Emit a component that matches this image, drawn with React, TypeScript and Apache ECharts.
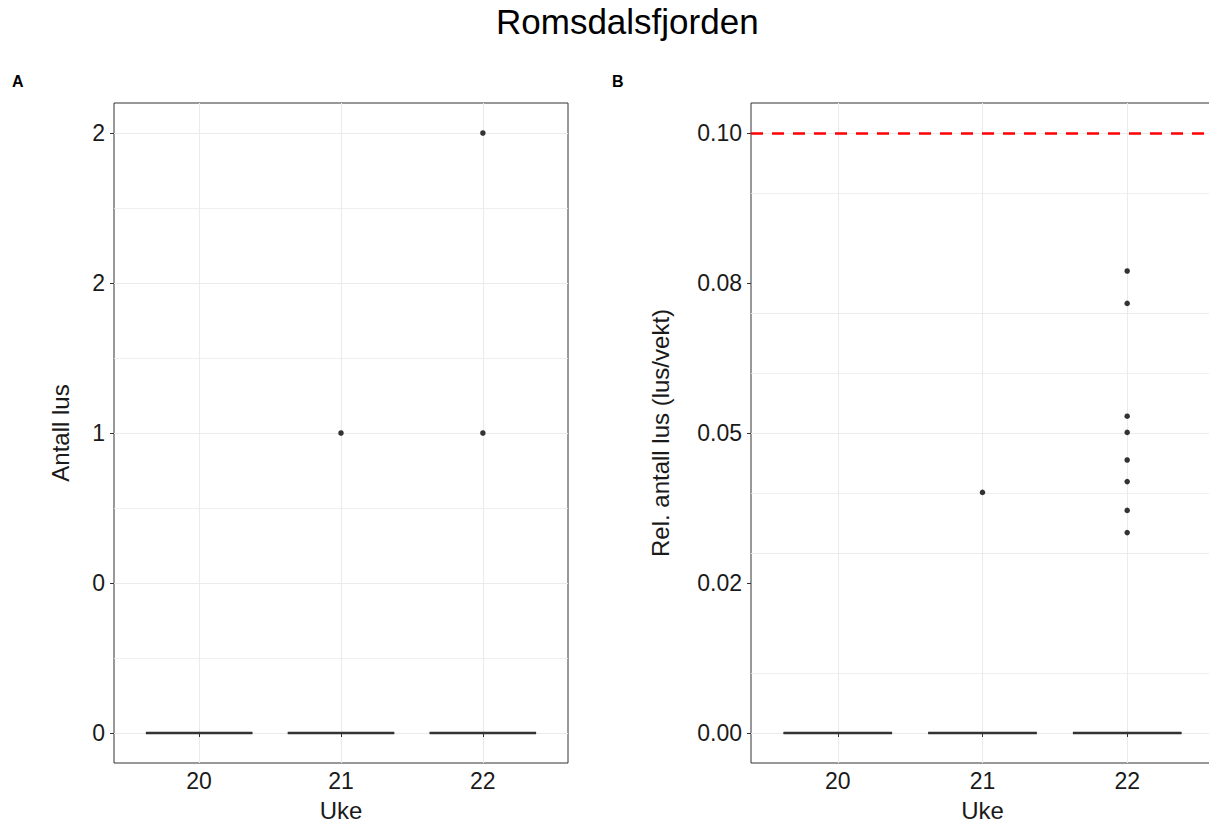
import React, { useEffect, useRef } from "react";
import * as echarts from "echarts";

// ---- data ----
const weeks = [20, 21, 22];
const title = "Romsdalsfjorden";

// box statistics per week: [min, q1, median, q3, max]
const boxA = [
  [0, 0, 0, 0, 0],
  [0, 0, 0, 0, 0],
  [0, 0, 0, 0, 0],
];
const boxB = [
  [0, 0, 0, 0, 0],
  [0, 0, 0, 0, 0],
  [0, 0, 0, 0, 0],
];
// outliers: [week, value]
const outliersA = [
  [21, 1],
  [22, 1],
  [22, 2],
];
const outliersB = [
  [21, 0.0401],
  [22, 0.077],
  [22, 0.0716],
  [22, 0.0528],
  [22, 0.0501],
  [22, 0.0455],
  [22, 0.0419],
  [22, 0.0371],
  [22, 0.0334],
];
const threshold = 0.1;

const ticksA = [0, 0.5, 1, 1.5, 2];
const labelsA = ["0", "0", "1", "2", "2"];
const minorA = [0.25, 0.75, 1.25, 1.75];
const ticksB = [0, 0.025, 0.05, 0.075, 0.1];
const labelsB = ["0.00", "0.02", "0.05", "0.08", "0.10"];
const minorB = [0.0125, 0.0375, 0.0625, 0.0875];

const FONT = '"Liberation Sans", Arial, Helvetica, sans-serif';
const TXT = "#1a1a1a";
const GRID = "#ebebeb";
const DARK = "#333333";

const weekPos = (w: number) => weeks.indexOf(w) + 1;

function labelFor(ticks: number[], labels: string[]) {
  return (v: number) => {
    const i = ticks.findIndex((t) => Math.abs(t - v) < 1e-9);
    return i >= 0 ? labels[i] : "";
  };
}

function renderBox(params: any, api: any) {
  const x = api.value(0);
  const lo = api.coord([x - 0.375, api.value(2)]);
  const hi = api.coord([x + 0.375, api.value(4)]);
  const med = api.coord([x, api.value(3)]);
  const wMin = api.coord([x, api.value(1)]);
  const wMax = api.coord([x, api.value(5)]);
  const lw = 2.6;
  return {
    type: "group",
    children: [
      { type: "line", shape: { x1: wMin[0], y1: wMin[1], x2: wMin[0], y2: lo[1] }, style: { stroke: DARK, lineWidth: 1, fill: "none" } },
      { type: "line", shape: { x1: wMax[0], y1: hi[1], x2: wMax[0], y2: wMax[1] }, style: { stroke: DARK, lineWidth: 1, fill: "none" } },
      {
        type: "rect",
        shape: { x: lo[0], y: hi[1], width: hi[0] - lo[0], height: lo[1] - hi[1] },
        style: { fill: "#ffffff", stroke: DARK, lineWidth: 1 },
      },
      {
        type: "rect",
        shape: { x: lo[0], y: med[1] - lw / 2, width: hi[0] - lo[0], height: lw },
        style: { fill: DARK, stroke: "none", lineWidth: 0 },
      },
    ],
  };
}

function gridLinesSeries(idx: number, majors: number[], minors: number[]) {
  const data: any[] = [];
  majors.forEach((v) => data.push({ yAxis: v, lineStyle: { width: 1.1 } }));
  minors.forEach((v) => data.push({ yAxis: v, lineStyle: { width: 0.8 } }));
  weeks.forEach((w) => data.push({ xAxis: weekPos(w), lineStyle: { width: 1.1 } }));
  return {
    type: "scatter",
    xAxisIndex: idx,
    yAxisIndex: idx,
    data: [],
    silent: true,
    z: 0,
    markLine: {
      z: 0,
      silent: true,
      symbol: ["none", "none"],
      label: { show: false },
      lineStyle: { color: GRID, type: "solid" },
      data,
    },
  };
}

export default function App() {
  const ref = useRef<HTMLDivElement>(null);
  useEffect(() => {
    if (!ref.current) return;
    const chart = echarts.init(ref.current, undefined, { renderer: "svg" });

    const xAxis = (gi: number) => ({
      type: "value",
      gridIndex: gi,
      min: 0.4,
      max: 3.6,
      name: "Uke",
      nameLocation: "middle",
      nameGap: 35,
      nameTextStyle: { fontFamily: FONT, fontSize: 24, color: TXT },
      axisLine: { show: false },
      splitLine: { show: false },
      axisTick: { show: true, length: 4, customValues: [1, 2, 3], lineStyle: { color: DARK } },
      axisLabel: {
        customValues: [1, 2, 3],
        formatter: (v: number) => String(weeks[Math.round(v) - 1] ?? ""),
        fontFamily: FONT,
        fontSize: 23,
        color: TXT,
        margin: 6,
      },
    });

    const yAxis = (gi: number, min: number, max: number, ticks: number[], labels: string[], name: string, gap: number) => ({
      type: "value",
      gridIndex: gi,
      min,
      max,
      name,
      nameLocation: "middle",
      nameGap: gap,
      nameTextStyle: { fontFamily: FONT, fontSize: 24, color: TXT },
      axisLine: { show: false },
      splitLine: { show: false },
      axisTick: { show: true, length: 4, customValues: ticks, lineStyle: { color: DARK } },
      axisLabel: {
        customValues: ticks,
        formatter: labelFor(ticks, labels),
        fontFamily: FONT,
        fontSize: 23,
        color: TXT,
        margin: 9,
      },
    });

    const boxData = (stats: number[][]) => stats.map((s, i) => [weekPos(weeks[i]), ...s]);

    const pointStyle = { color: DARK, opacity: 1, borderWidth: 0 };

    chart.setOption({
      animation: false,
      backgroundColor: "#ffffff",
      graphic: [
        {
          type: "text",
          left: 496,
          top: 4,
          style: { text: title, fontFamily: FONT, fontSize: 35, fill: "#000" },
        },
        { type: "text", left: 12, top: 73, style: { text: "A", fontFamily: FONT, fontSize: 16, fontWeight: "bold", fill: "#000" } },
        { type: "text", left: 612, top: 73, style: { text: "B", fontFamily: FONT, fontSize: 16, fontWeight: "bold", fill: "#000" } },
      ],
      grid: [
        { left: 114, top: 103, width: 454, height: 660, outerBoundsMode: "none", containLabel: false, show: true, borderColor: DARK, borderWidth: 1, backgroundColor: "#fff" },
        { left: 751, top: 103, width: 463, height: 660, outerBoundsMode: "none", containLabel: false, show: true, borderColor: DARK, borderWidth: 1, backgroundColor: "#fff" },
      ],
      xAxis: [xAxis(0), xAxis(1)],
      yAxis: [
        yAxis(0, -0.1, 2.1, ticksA, labelsA, "Antall lus", 42),
        yAxis(1, -0.005, 0.105, ticksB, labelsB, "Rel. antall lus (lus/vekt)", 79),
      ],
      series: [
        gridLinesSeries(0, ticksA, minorA),
        gridLinesSeries(1, ticksB, minorB),
        {
          type: "custom",
          xAxisIndex: 0,
          yAxisIndex: 0,
          renderItem: renderBox,
          encode: { x: 0, y: [1, 2, 3, 4, 5] },
          data: boxData(boxA),
          z: 2,
        },
        {
          type: "custom",
          xAxisIndex: 1,
          yAxisIndex: 1,
          renderItem: renderBox,
          encode: { x: 0, y: [1, 2, 3, 4, 5] },
          data: boxData(boxB),
          z: 2,
        },
        {
          type: "scatter",
          xAxisIndex: 0,
          yAxisIndex: 0,
          symbol: "circle",
          symbolSize: 5.5,
          itemStyle: pointStyle,
          data: outliersA.map(([w, v]) => [weekPos(w), v]),
          z: 3,
        },
        {
          type: "scatter",
          xAxisIndex: 1,
          yAxisIndex: 1,
          symbol: "circle",
          symbolSize: 5.5,
          itemStyle: pointStyle,
          data: outliersB.map(([w, v]) => [weekPos(w), v]),
          z: 3,
          markLine: {
            silent: true,
            symbol: ["none", "none"],
            label: { show: false },
            lineStyle: { color: "#ff0000", type: [12, 9], width: 2.6 },
            data: [{ yAxis: threshold }],
          },
        },
      ],
    });
    return () => chart.dispose();
  }, []);
  return (
    <div
      ref={ref}
      style={{ position: "fixed", left: 0, top: 0, width: 1209, height: 823, overflow: "hidden" }}
    />
  );
}
